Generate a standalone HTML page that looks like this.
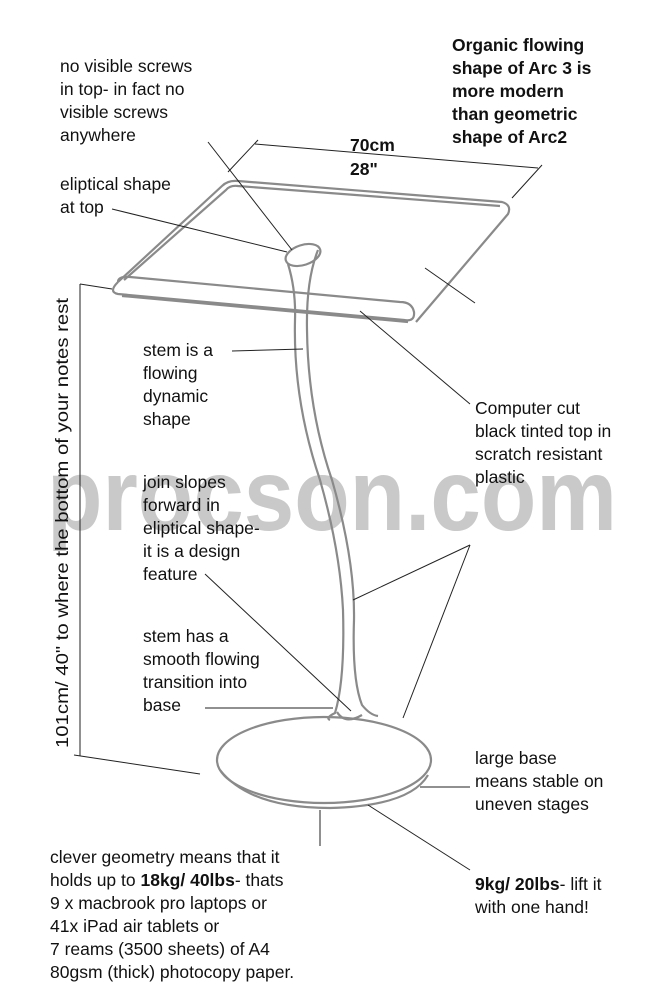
<!DOCTYPE html>
<html><head><style>
body{margin:0;background:#fff}
svg{display:block}
text{font-family:"Liberation Sans",Arial,sans-serif;font-size:17.5px;fill:#111}
.b{font-weight:bold}
</style></head><body>
<svg width="667" height="1000" viewBox="0 0 667 1000">
<text x="47" y="530" style="font-size:102px;font-weight:bold;fill:#c9c9c9" textLength="570" lengthAdjust="spacingAndGlyphs">procson.com</text>
<g fill="none" stroke="#8a8a8a" stroke-width="2.2">
<path d="M118,282 L222,186 Q228,180 238,181 L502,202 Q512,205 508,214 L416,322"/>
<path d="M124,280 L226,190 Q230,185 238,186 L500,206"/>
<path d="M118,282 Q108,292 118,294 L404,320 Q415,322 414,312 Q412,302 400,302 L130,277 Q118,276 118,282"/>
<path d="M122,296 L408,322"/>
<ellipse cx="303" cy="255" rx="18" ry="10" transform="rotate(-18 303 255)"/>
<path d="M288,264 Q296,290 295,320 Q293,400 320,480 Q340,550 343,610 Q345,680 335,713 Q325,718 330,720"/>
<path d="M318,250 Q306,280 307,330 Q308,410 332,480 Q355,560 354,620 Q352,680 362,705 Q370,715 378,716"/>
<path d="M337,712 Q345,725 362,715"/>
<ellipse cx="324" cy="760" rx="107" ry="43"/>
<path d="M220,770 Q250,808 330,808 Q410,806 428,775"/>
</g>
<g stroke="#222" stroke-width="1" fill="none">
<line x1="228" y1="172" x2="258" y2="140"/>
<line x1="512" y1="198" x2="542" y2="165"/>
<line x1="255" y1="144" x2="538" y2="168"/>
<line x1="80" y1="284" x2="80" y2="756"/>
<line x1="80" y1="284" x2="112" y2="289"/>
<line x1="74" y1="755" x2="200" y2="774"/>
<line x1="208" y1="142" x2="292" y2="250"/>
<line x1="112" y1="209" x2="287" y2="252"/>
<line x1="232" y1="351" x2="303" y2="349"/>
<line x1="425" y1="268" x2="475" y2="303"/>
<line x1="470" y1="404" x2="360" y2="311"/>
<line x1="470" y1="545" x2="353" y2="600"/>
<line x1="470" y1="545" x2="403" y2="718"/>
<line x1="205" y1="574" x2="351" y2="711"/>
<line x1="205" y1="708" x2="333" y2="708"/>
<line x1="470" y1="787" x2="420" y2="787"/>
<line x1="470" y1="870" x2="368" y2="805"/>
<line x1="320" y1="810" x2="320" y2="846"/>
</g>
<text x="60" y="72">no visible screws</text>
<text x="60" y="95">in top- in fact no</text>
<text x="60" y="118">visible screws</text>
<text x="60" y="141">anywhere</text>
<text x="60" y="190">eliptical shape</text>
<text x="60" y="213">at top</text>
<text x="452" y="51" class="b">Organic flowing</text>
<text x="452" y="74" class="b">shape of Arc 3 is</text>
<text x="452" y="97" class="b">more modern</text>
<text x="452" y="120" class="b">than geometric</text>
<text x="452" y="143" class="b">shape of Arc2</text>
<text x="350" y="151" class="b">70cm</text>
<text x="350" y="175" class="b">28"</text>
<text x="143" y="356">stem is a</text>
<text x="143" y="379">flowing</text>
<text x="143" y="402">dynamic</text>
<text x="143" y="425">shape</text>
<text x="475" y="414">Computer cut</text>
<text x="475" y="437">black tinted top in</text>
<text x="475" y="460">scratch resistant</text>
<text x="475" y="483">plastic</text>
<text x="143" y="488">join slopes</text>
<text x="143" y="511">forward in</text>
<text x="143" y="534">eliptical shape-</text>
<text x="143" y="557">it is a design</text>
<text x="143" y="580">feature</text>
<text x="143" y="642">stem has a</text>
<text x="143" y="665">smooth flowing</text>
<text x="143" y="688">transition into</text>
<text x="143" y="711">base</text>
<text x="475" y="764">large base</text>
<text x="475" y="787">means stable on</text>
<text x="475" y="810">uneven stages</text>
<text x="475" y="890"><tspan class="b">9kg/ 20lbs</tspan>- lift it</text>
<text x="475" y="913">with one hand!</text>
<text x="50" y="863">clever geometry means that it</text>
<text x="50" y="886">holds up to <tspan class="b">18kg/ 40lbs</tspan>- thats</text>
<text x="50" y="909">9 x  macbrook pro laptops or</text>
<text x="50" y="932">41x iPad air tablets or</text>
<text x="50" y="955">7 reams (3500 sheets) of A4</text>
<text x="50" y="978">80gsm (thick) photocopy paper.</text>
<text transform="translate(68,748) rotate(-90)" textLength="450" lengthAdjust="spacingAndGlyphs">101cm/ 40"  to where the bottom of your notes rest</text>
</svg>
</body></html>
